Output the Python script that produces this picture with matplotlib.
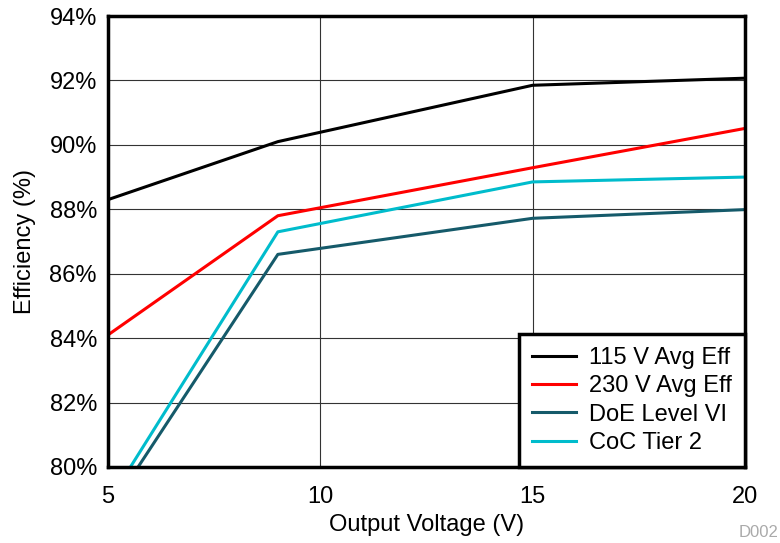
import matplotlib.pyplot as plt
import matplotlib.ticker as mticker

plt.rcParams['font.family'] = ['Liberation Sans', 'DejaVu Sans']

# output voltage (V)
voltage = [5, 9, 15, 20]

# efficiency (%) per series
eff_115 = [88.3, 90.1, 91.85, 92.07]
eff_230 = [84.1, 87.8, 89.29, 90.51]
doe_vi = [78.58, 86.6, 87.72, 87.99]
coc_t2 = [78.89, 87.3, 88.85, 89.0]

series = [
    ('115 V Avg Eff', eff_115, '#000000'),
    ('230 V Avg Eff', eff_230, '#ff0000'),
    ('DoE Level VI', doe_vi, '#155a6a'),
    ('CoC Tier 2', coc_t2, '#00bccc'),
]

fig = plt.figure(figsize=(7.8, 5.43), dpi=100)
ax = fig.add_axes([0.1385, 0.14, 0.8165, 0.8305])

for name, vals, col in series:
    ax.plot(voltage, vals, color=col, lw=2.2, label=name)

ax.set_xlim(5, 20)
ax.set_ylim(80, 94)
ax.set_xticks([5, 10, 15, 20])
ax.set_yticks(range(80, 95, 2))
ax.yaxis.set_major_formatter(mticker.FuncFormatter(lambda v, p: '%d%%' % v))
ax.tick_params(length=0, labelsize=17)
ax.tick_params(axis='y', pad=8)
ax.tick_params(axis='x', pad=14)
ax.grid(True, color='#333333', lw=0.8)
ax.set_axisbelow(True)
for s in ax.spines.values():
    s.set_linewidth(2.5)

ax.set_xlabel('Output Voltage (V)', fontsize=17, labelpad=4)
ax.set_ylabel('Efficiency (%)', fontsize=17, labelpad=10)

leg = ax.legend(loc='lower right', fontsize=17, fancybox=False, framealpha=1,
                edgecolor='black', borderaxespad=0, handlelength=1.85,
                labelspacing=0.27, handletextpad=0.55, borderpad=0.55)
leg.get_frame().set_linewidth(2.5)

fig.text(0.998, 0.005, 'D002', color='#aaaaaa', fontsize=12, ha='right', va='bottom')

fig.savefig('out.png', dpi=100)
